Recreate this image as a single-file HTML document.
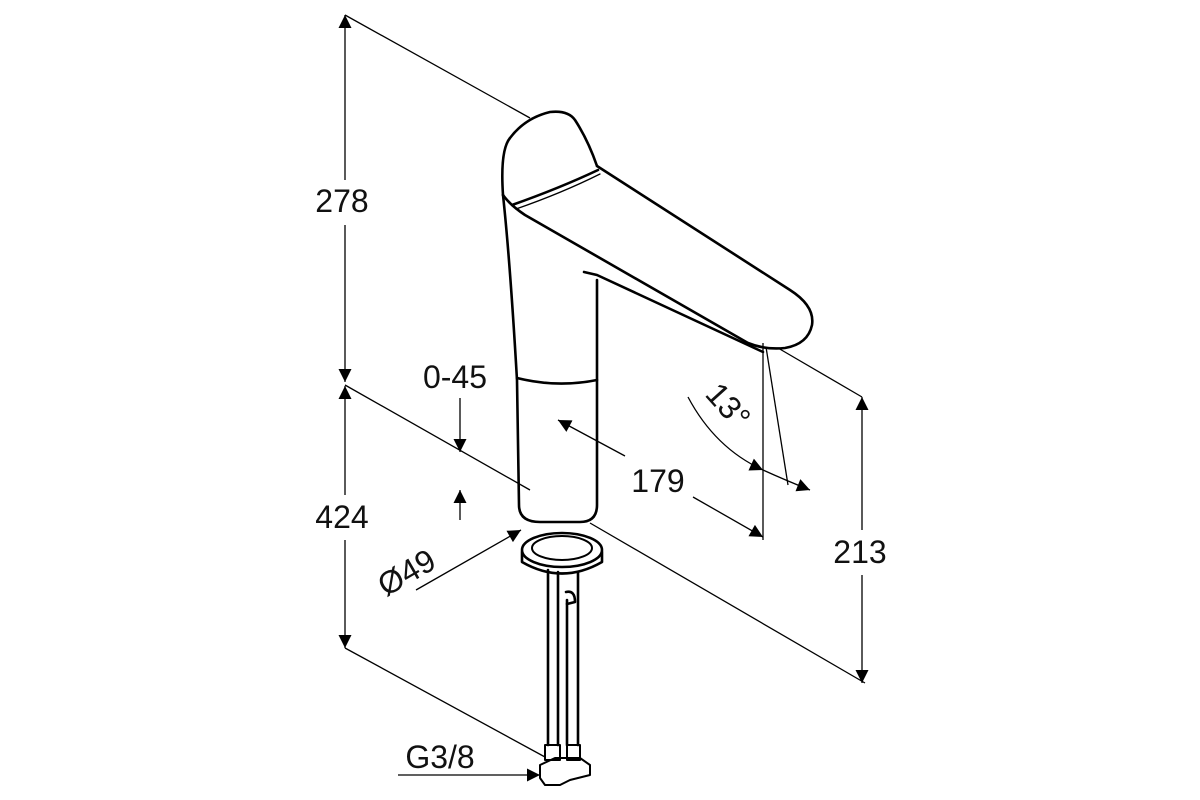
<!DOCTYPE html>
<html><head><style>
html,body{margin:0;padding:0;background:#fff;}
svg{display:block;}
text{font-family:"Liberation Sans",sans-serif;font-size:32px;fill:#111;}
</style></head><body>
<svg width="1200" height="800" viewBox="0 0 1200 800" xmlns="http://www.w3.org/2000/svg">
<defs>
<marker id="a" viewBox="0 0 10 10" refX="10" refY="5" markerWidth="22" markerHeight="13" markerUnits="userSpaceOnUse" orient="auto"><path d="M0,0 L10,5 L0,10 z" fill="#000"/></marker>
</defs>
<g stroke="#000" stroke-width="1.3" fill="none">
<line x1="345" y1="180" x2="345" y2="15" marker-end="url(#a)"/>
<line x1="345" y1="225" x2="345" y2="382" marker-end="url(#a)"/>
<line x1="345" y1="495" x2="345" y2="386" marker-end="url(#a)"/>
<line x1="345" y1="540" x2="345" y2="648" marker-end="url(#a)"/>
<line x1="345" y1="15" x2="530" y2="118"/>
<line x1="345" y1="385" x2="530" y2="490"/>
<line x1="345" y1="648" x2="545" y2="757"/>
<line x1="590" y1="523" x2="865" y2="683"/>
<line x1="778" y1="348" x2="862" y2="397"/>
<line x1="862" y1="530" x2="862" y2="397" marker-end="url(#a)"/>
<line x1="862" y1="575" x2="862" y2="683" marker-end="url(#a)"/>
<line x1="625" y1="456" x2="558" y2="420" marker-end="url(#a)"/>
<line x1="693" y1="497" x2="763" y2="537" marker-end="url(#a)"/>
<line x1="763" y1="343" x2="763" y2="540"/>
<line x1="766" y1="347" x2="788" y2="485"/>
<path d="M688,397 Q715,448 763,470" marker-end="url(#a)"/>
<path d="M763,470 Q785,480 810,490" marker-end="url(#a)"/>
<line x1="460" y1="398" x2="460" y2="452" marker-end="url(#a)"/>
<line x1="460" y1="520" x2="460" y2="490" marker-end="url(#a)"/>
<line x1="416" y1="590" x2="521" y2="530" marker-end="url(#a)"/>
<line x1="398" y1="775" x2="540" y2="775" marker-end="url(#a)"/>
</g>
<g stroke="#000" stroke-width="2.6" fill="none" stroke-linejoin="round" stroke-linecap="round">
<path d="M503,195 Q500,150 510,138 Q525,118 550,112 Q568,110 575,120 Q588,140 597,166"/>
<path d="M597,166 L790,290 Q815,306 812,325 Q808,344 785,348 Q765,350 748,343 L525,215 Q510,205 503,195"/>
<path d="M512,205 Q560,188 598,170"/>
<path d="M516,209 Q562,193 600,174" stroke-width="1.3"/>
<path d="M503,195 Q510,260 517,380 L519,505 Q519,522 540,522 L580,522 Q597,522 597,505 L597,280"/>
<path d="M584,272 L597,275 L763,352"/>
<path d="M517,378 Q557,388 597,380"/>
<ellipse cx="562" cy="550" rx="40" ry="17"/>
<ellipse cx="562" cy="548" rx="30" ry="12" stroke-width="2"/>
<path d="M522,552 L522,562 Q562,585 602,562 L602,552"/>
<path d="M548,570 L548,745 M558,572 L558,745 M567,600 L567,745 M578,572 L578,745"/>
<path d="M566,592 Q575,590 575,602 L567,604"/>
<path d="M545,745 L560,745 L560,760 L545,760 Z M567,745 L580,745 L580,760 L567,760 Z" stroke-width="2"/>
<path d="M540,765 L555,758 L580,758 L590,765 L590,775 L570,780 L560,785 L545,785 L540,778 Z" stroke-width="2"/>
</g>
<text x="342" y="212" text-anchor="middle">278</text>
<text x="342" y="528" text-anchor="middle">424</text>
<text x="860" y="563" text-anchor="middle">213</text>
<text x="658" y="492" text-anchor="middle">179</text>
<text x="455" y="388" text-anchor="middle">0-45</text>
<text x="440" y="768" text-anchor="middle">G3/8</text>
<text transform="translate(412,582) rotate(-30)" text-anchor="middle">Ø49</text>
<text transform="translate(720,413) rotate(48)" text-anchor="middle">13°</text>
</svg>
</body></html>
